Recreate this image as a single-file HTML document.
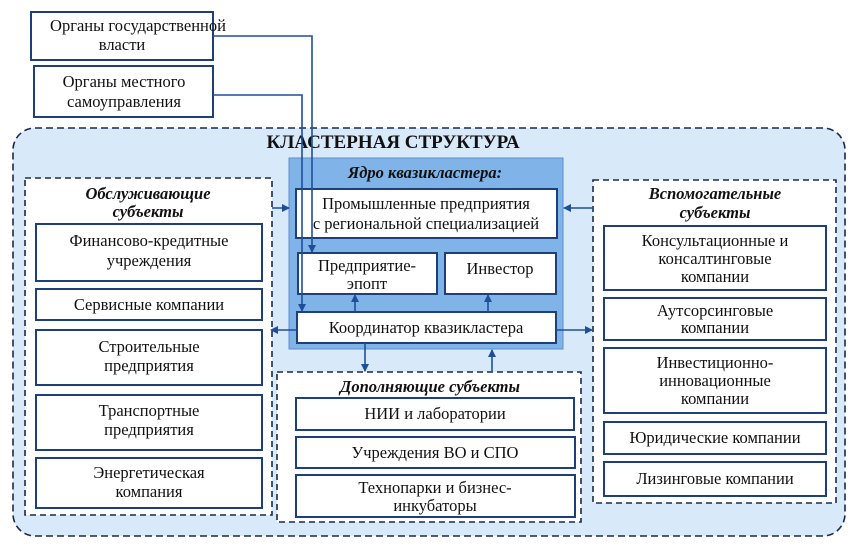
<!DOCTYPE html>
<html><head><meta charset="utf-8"><style>
body{margin:0;background:#fff}
svg text{font-family:"Liberation Serif",serif;font-size:16.5px;fill:#111;text-anchor:middle}
.b{fill:#fff;stroke:#1d3f7a;stroke-width:2}
.t{font-weight:bold;font-style:italic}
</style></head><body>
<svg width="856" height="553" viewBox="0 0 856 553" xmlns="http://www.w3.org/2000/svg">
<defs><marker id="a" markerWidth="8" markerHeight="8" refX="7" refY="4" orient="auto" markerUnits="userSpaceOnUse"><path d="M0,0L8,4L0,8z" fill="#1f4f9a"/></marker></defs>
<rect x="13" y="128" width="832" height="408" rx="22" fill="#d8e9f9" stroke="#1a2a4a" stroke-width="1.6" stroke-dasharray="7,4"/>
<rect x="31" y="12" width="182" height="48" class="b"/>
<text x="138" y="31">Органы государственной</text><text x="122" y="50">власти</text>
<rect x="34" y="66" width="179" height="51" class="b"/>
<text x="124" y="87">Органы местного</text><text x="124" y="107">самоуправления</text>
<text x="393" y="148" style="font-weight:bold;font-size:19px">КЛАСТЕРНАЯ СТРУКТУРА</text>
<rect x="289" y="158" width="274" height="191" fill="#80b3e8" stroke="#5b8fcc"/>
<text x="425" y="178" class="t">Ядро квазикластера:</text>
<rect x="296" y="189" width="261" height="49" class="b"/>
<text x="426" y="209">Промышленные предприятия</text><text x="426" y="229">с региональной специализацией</text>
<rect x="298" y="253" width="139" height="41" class="b"/>
<text x="367" y="271">Предприятие-</text><text x="367" y="289">эпопт</text>
<rect x="445" y="253" width="111" height="41" class="b"/>
<text x="500" y="274">Инвестор</text>
<rect x="297" y="312" width="259" height="31" class="b"/>
<text x="426" y="333">Координатор квазикластера</text>
<rect x="25" y="178" width="247" height="337" fill="#fff" stroke="#1a2a4a" stroke-width="1.6" stroke-dasharray="6,4"/>
<text x="148" y="199" class="t">Обслуживающие</text><text x="148" y="217" class="t">субъекты</text>
<rect x="36" y="224" width="226" height="57" class="b"/><text x="149" y="246">Финансово-кредитные</text><text x="149" y="266">учреждения</text>
<rect x="36" y="289" width="226" height="31" class="b"/><text x="149" y="310">Сервисные компании</text>
<rect x="36" y="330" width="226" height="55" class="b"/><text x="149" y="352">Строительные</text><text x="149" y="371">предприятия</text>
<rect x="36" y="395" width="226" height="55" class="b"/><text x="149" y="416">Транспортные</text><text x="149" y="435">предприятия</text>
<rect x="36" y="458" width="226" height="50" class="b"/><text x="149" y="478">Энергетическая</text><text x="149" y="497">компания</text>
<rect x="593" y="180" width="243" height="323" fill="#fff" stroke="#1a2a4a" stroke-width="1.6" stroke-dasharray="6,4"/>
<text x="715" y="199" class="t">Вспомогательные</text><text x="715" y="218" class="t">субъекты</text>
<rect x="604" y="226" width="222" height="64" class="b"/><text x="715" y="246">Консультационные и</text><text x="715" y="264">консалтинговые</text><text x="715" y="282">компании</text>
<rect x="604" y="298" width="222" height="42" class="b"/><text x="715" y="316">Аутсорсинговые</text><text x="715" y="333">компании</text>
<rect x="604" y="348" width="222" height="65" class="b"/><text x="715" y="368">Инвестиционно-</text><text x="715" y="386">инновационные</text><text x="715" y="404">компании</text>
<rect x="604" y="422" width="222" height="32" class="b"/><text x="715" y="443">Юридические компании</text>
<rect x="604" y="462" width="222" height="34" class="b"/><text x="715" y="484">Лизинговые компании</text>
<rect x="277" y="372" width="304" height="150" fill="#fff" stroke="#1a2a4a" stroke-width="1.6" stroke-dasharray="6,4"/>
<text x="430" y="392" class="t">Дополняющие субъекты</text>
<rect x="296" y="398" width="278" height="32" class="b"/><text x="435" y="419">НИИ и лаборатории</text>
<rect x="296" y="437" width="279" height="31" class="b"/><text x="435" y="458">Учреждения ВО и СПО</text>
<rect x="296" y="475" width="279" height="42" class="b"/><text x="435" y="493">Технопарки и бизнес-</text><text x="435" y="511">инкубаторы</text>
<g stroke="#1f4f9a" stroke-width="1.6" fill="none" marker-end="url(#a)">
<path d="M213,36H312V252"/>
<path d="M213,95H302V311"/>
<path d="M355,312V295"/>
<path d="M488,312V295"/>
<path d="M297,330H271"/>
<path d="M556,330H592"/>
<path d="M272,208H289"/>
<path d="M593,208H564"/>
<path d="M365,343V371"/>
<path d="M492,372V350"/>
</g>
</svg>
</body></html>
